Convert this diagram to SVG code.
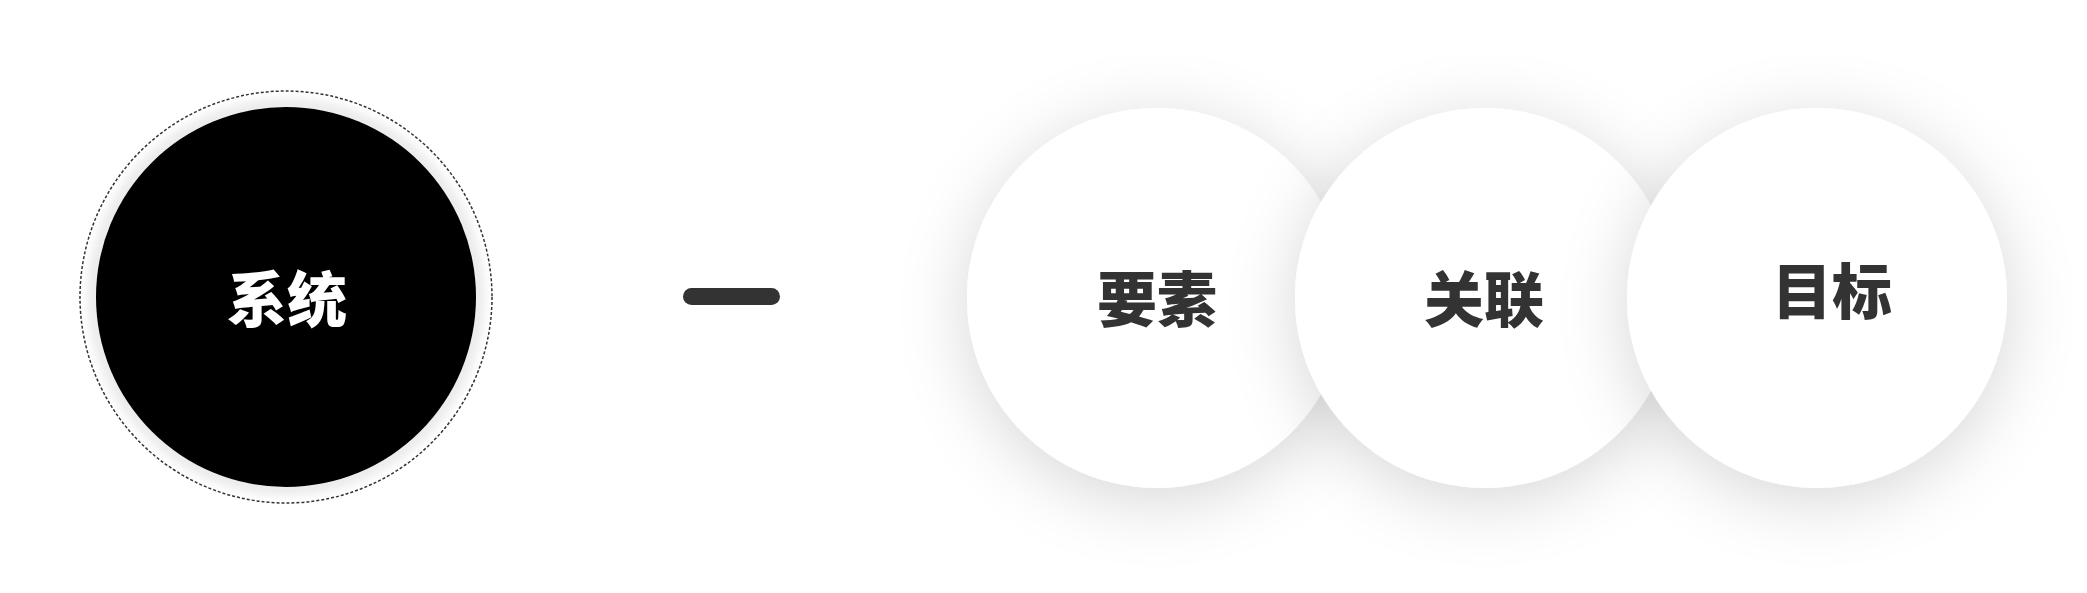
<svg xmlns="http://www.w3.org/2000/svg" width="2087" height="593" viewBox="0 0 2087 593">
<style>
.lbl{font-family:"Noto Sans CJK SC","Noto Sans",sans-serif;font-weight:900;font-size:60px;text-anchor:middle}
.dark{fill:#333333}
.white-c{fill:#ffffff;filter:url(#sh)}
</style>
<defs>
<filter id="sh" x="-50%" y="-50%" width="200%" height="200%">
<feGaussianBlur in="SourceAlpha" stdDeviation="34"/>
<feOffset dx="0" dy="12" result="b"/>
<feFlood flood-color="#000" flood-opacity="0.16"/>
<feComposite in2="b" operator="in" result="s"/>
<feMerge><feMergeNode in="s"/><feMergeNode in="SourceGraphic"/></feMerge>
</filter>
<filter id="soft" x="-20%" y="-20%" width="140%" height="140%">
<feGaussianBlur stdDeviation="4"/>
</filter>
</defs>
<rect width="2087" height="593" fill="#ffffff"/>
<g id="node-system">
<circle cx="286" cy="297" r="199" fill="#ececec" filter="url(#soft)"/>
<circle cx="286" cy="297" r="206" fill="none" stroke="#333" stroke-width="1.5" stroke-dasharray="3 2"/>
<circle cx="286" cy="297" r="190" fill="#000000"/>
<text class="lbl" x="287" y="322" fill="#ffffff">系统</text>
</g>
<g id="connectors">
<rect x="683" y="288" width="97" height="17" rx="8.5" fill="#333333"/>
</g>
<g id="node-elements">
<circle class="white-c" cx="1157" cy="298" r="190"/>
<text class="lbl dark" x="1157" y="322">要素</text>
</g>
<g id="node-relations">
<circle class="white-c" cx="1485" cy="298" r="190"/>
<text class="lbl dark" x="1484" y="322">关联</text>
</g>
<g id="node-goal">
<circle class="white-c" cx="1817" cy="298" r="190"/>
<text class="lbl dark" x="1832" y="314">目标</text>
</g>
</svg>
